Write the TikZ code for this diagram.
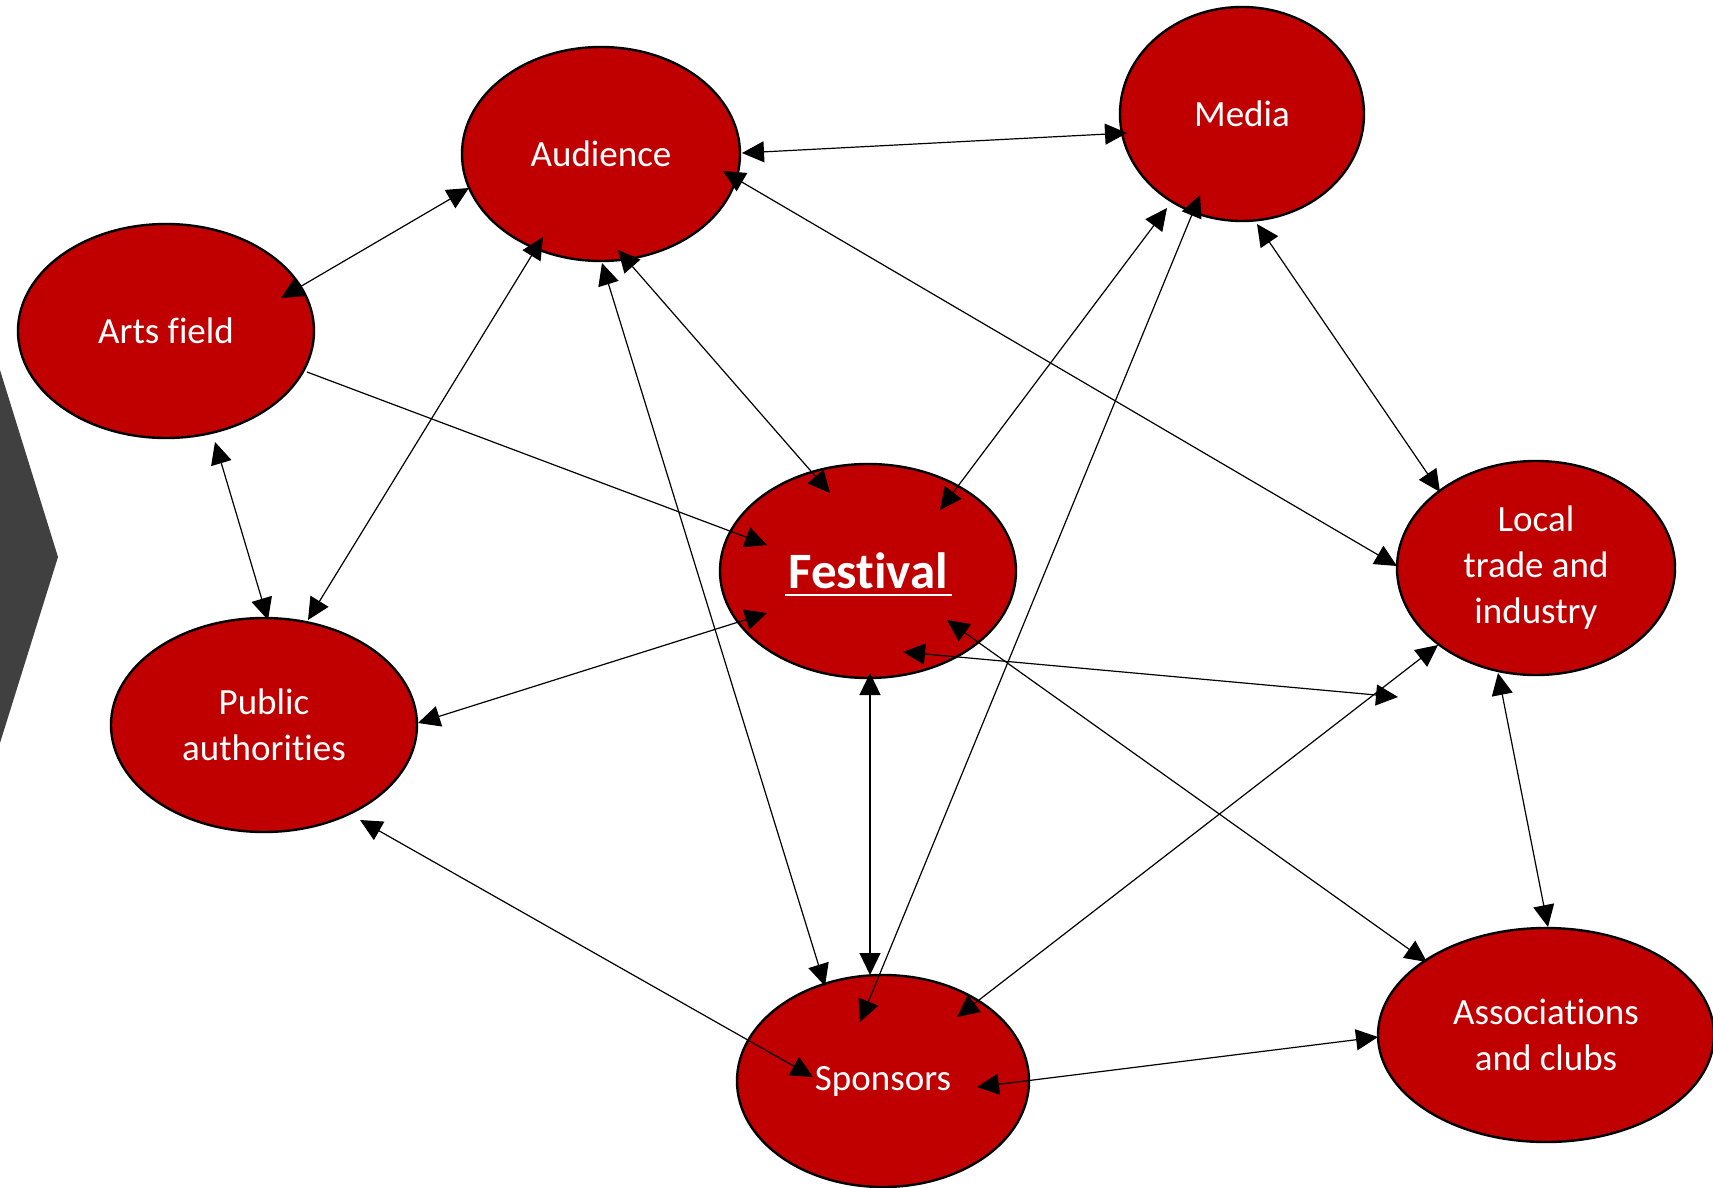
\documentclass[tikz,border=0pt]{standalone}
\usepackage{fontspec}
\setmainfont{Carlito}[Ligatures={NoCommon}]
\usetikzlibrary{shapes.geometric,arrows.meta,calc}
\definecolor{nodered}{HTML}{C00000}
\definecolor{chev}{HTML}{404040}
\tikzset{
  >={Triangle[length=22pt,width=21pt]},
  actor/.style={ellipse, draw=black, line width=2.4pt, fill=nodered, text=white,
    inner sep=0pt, align=center, font=\fontsize{37}{46}\selectfont},
  link/.style={line width=1.2pt, draw=black, <->},
  onelink/.style={line width=1.2pt, draw=black, ->},
}
\begin{document}
\begin{tikzpicture}[x=1pt,y=-1pt]
\useasboundingbox (0,0) rectangle (1713,1188);
\fill[chev] (-5,370) -- (0,370) -- (58,557) -- (0,743) -- (-5,743) -- cycle;

\node[actor, minimum width=278pt, minimum height=214pt] (aud) at (601,154) {Audience};
\node[actor, minimum width=244pt, minimum height=214pt] (med) at (1242,114) {Media};
\node[actor, minimum width=296pt, minimum height=214pt] (art) at (166,331) {Arts field};
\node[actor, minimum width=296pt, minimum height=214pt, font=\fontsize{51}{60}\bfseries\selectfont] (fes) at (868,571) {Festival};
\node[actor, minimum width=278pt, minimum height=214pt] (loc) at (1536,568) {Local\\trade and\\industry};
\node[actor, minimum width=306pt, minimum height=214pt] (pub) at (264,725) {Public\\authorities};
\node[actor, minimum width=292pt, minimum height=212pt] (spo) at (883,1081) {Sponsors};
\node[actor, minimum width=336pt, minimum height=214pt] (ass) at (1546,1035) {Associations\\and clubs};

\draw[white, line width=2.6pt] ($(fes)+(-83,24)$) -- ($(fes)+(84,24)$);

\draw[link] ($(aud)+(141,-1)$) -- ($(med)+(-115,19)$);
\draw[link] ($(aud)+(-132,34)$) -- ($(art)+(115,-33)$);
\draw[link] ($(aud)+(122,17)$) -- ($(loc)+(-139,-2)$);
\draw[link] ($(aud)+(-58,83)$) -- ($(pub)+(44,-105)$);
\draw[link] ($(aud)+(17,96)$) -- ($(fes)+(-38,-78)$);
\draw[link] ($(aud)+(1,109)$) -- ($(spo)+(-58,-95)$);
\draw[onelink] ($(art)+(141,41)$) -- ($(fes)+(-101,-26)$);
\draw[link] ($(art)+(49,111)$) -- ($(pub)+(4,-105)$);
\draw[link] ($(med)+(-75,94)$) -- ($(fes)+(72,-61)$);
\draw[link] ($(med)+(-42,81)$) -- ($(spo)+(-23,-59)$);
\draw[link] ($(med)+(15,110)$) -- ($(loc)+(-96,-76)$);
\draw[link] ($(fes)+(-101,42)$) -- ($(pub)+(154,-2)$);
\draw[link] ($(fes)+(2,102)$) -- ($(spo)+(-13,-106)$);
\draw[link] ($(fes)+(35,81)$) -- ($(loc)+(-138,129)$);
\draw[link] ($(fes)+(79,49)$) -- ($(ass)+(-119,-73)$);
\draw[link] ($(spo)+(74,-64)$) -- ($(loc)+(-98,77)$);
\draw[link] ($(spo)+(-70,-4)$) -- ($(pub)+(96,95)$);
\draw[link] ($(spo)+(94,6)$) -- ($(ass)+(-168,2)$);
\draw[link] ($(loc)+(-38,105)$) -- ($(ass)+(2,-108)$);
\end{tikzpicture}
\end{document}
